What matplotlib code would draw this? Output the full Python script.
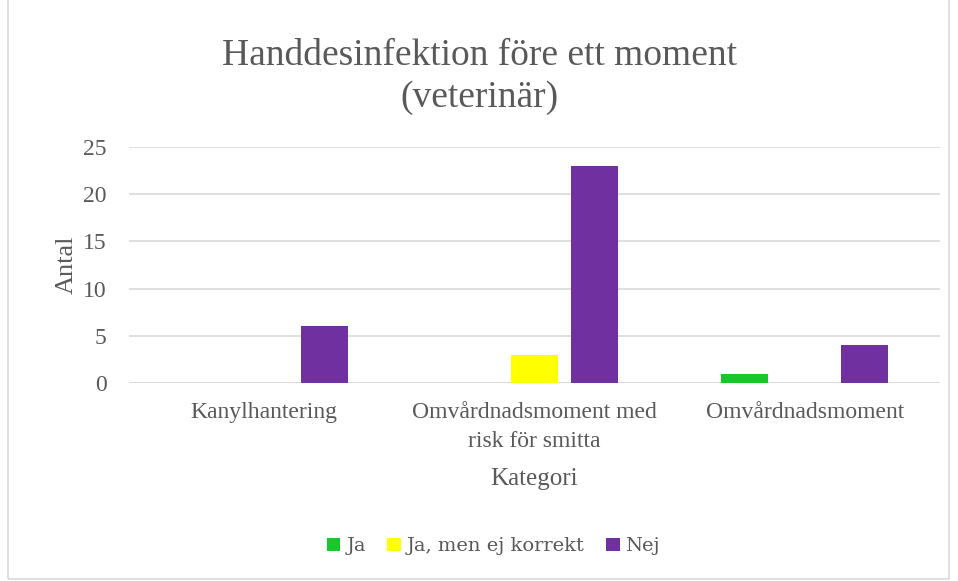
import numpy as np
import matplotlib
matplotlib.use('Agg')
import matplotlib.pyplot as plt
from matplotlib.patches import Rectangle

# Data
categories = ["Kanylhantering", "Omvårdnadsmoment med\nrisk för smitta", "Omvårdnadsmoment"]
series_names = ["Ja", "Ja, men ej korrekt", "Nej"]
ja = [0, 0, 1]
ja_men = [0, 3, 0]
nej = [6, 23, 4]
colors = ["#16C82A", "#FFFF00", "#7030A0"]
yticks = [0, 5, 10, 15, 20, 25]

plt.rcParams['font.family'] = ['Liberation Serif', 'DejaVu Serif']
text_col = "#595959"

fig = plt.figure(figsize=(9.58, 5.81), dpi=100)
ax = fig.add_axes([129 / 958, 1 - 383 / 581, 811 / 958, 236 / 581])

x = np.arange(len(categories))
width = 0.174
step = 0.222
for i, (vals, name, col) in enumerate(zip([ja, ja_men, nej], series_names, colors)):
    ax.bar(x + (i - 1) * step, vals, width, color=col, label=name, zorder=3)

ax.set_xlim(-0.5, 2.5)
ax.set_ylim(0, 25)
ax.set_yticks(yticks)
ax.yaxis.grid(True, color="#D9D9D9", linewidth=1.2, zorder=0)
for s in ax.spines.values():
    s.set_visible(False)
ax.axhline(0, color="#D9D9D9", linewidth=1.2, zorder=1)
ax.tick_params(axis='both', length=0, colors=text_col)
ax.tick_params(axis='y', pad=16, labelsize=17)
ax.tick_params(axis='x', pad=14)
ax.set_xticks(x)
ax.set_xticklabels(categories, fontsize=17, color=text_col, linespacing=1.45)
ax.set_xlabel("Kategori", fontsize=18, color=text_col, labelpad=12)
ax.set_ylabel("Antal", fontsize=19, color=text_col, labelpad=4)

fig.text(0.5, 0.868, "Handdesinfektion före ett moment\n(veterinär)", ha='center',
         va='center', fontsize=27, color=text_col, linespacing=1.3)

leg = fig.legend(loc='center', bbox_to_anchor=(0.515, 0.06), ncol=3, frameon=False,
                 handlelength=0.7, handleheight=0.7, handletextpad=0.3,
                 columnspacing=1.1, prop={'family': 'DejaVu Serif', 'size': 14})
for t in leg.get_texts():
    t.set_color(text_col)

fig.patches.append(Rectangle((8 / 958, 0.003), 941 / 958, 1.2, transform=fig.transFigure,
                             fill=False, edgecolor="#D9D9D9", linewidth=1.2))

fig.savefig("out.png", dpi=100)
